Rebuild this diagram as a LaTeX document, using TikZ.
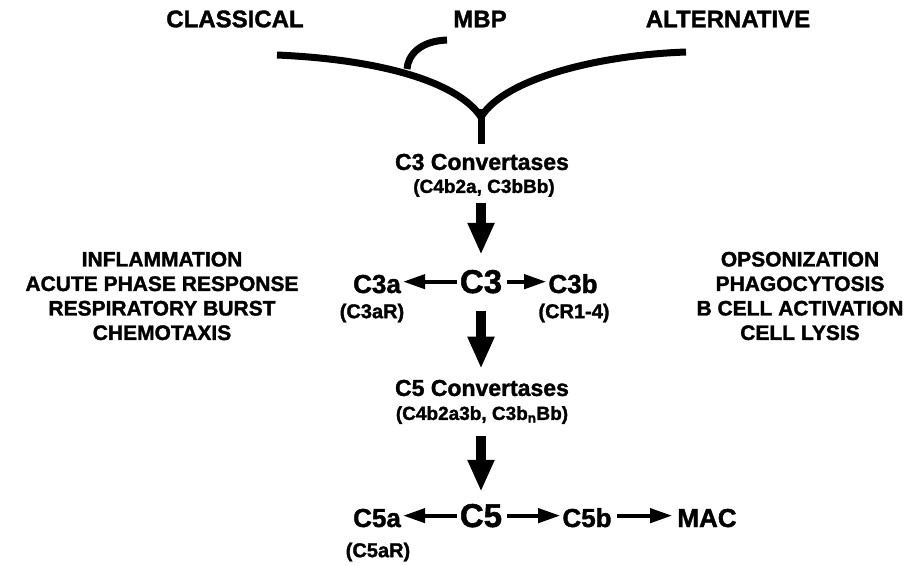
\documentclass[tikz,border=0pt]{standalone}
\usepackage{fontspec}
\setmainfont{Liberation Sans}[BoldFeatures={FakeBold=1.5}]
\usetikzlibrary{arrows.meta,positioning}
\tikzstyle{pathway}   =[font=\bfseries\fontsize{24}{28}\selectfont, inner sep=0pt]
\tikzstyle{effect}    =[font=\bfseries\fontsize{21}{24.5}\selectfont, align=center, inner sep=0pt]
\tikzstyle{convertase}=[font=\bfseries\fontsize{23}{26}\selectfont, inner sep=0pt]
\tikzstyle{complex}   =[font=\bfseries\fontsize{19}{22}\selectfont, inner sep=0pt]
\tikzstyle{major}     =[font=\bfseries\fontsize{33}{36}\selectfont, inner sep=0pt, anchor=base]
\tikzstyle{fragment}  =[font=\bfseries\fontsize{26}{30}\selectfont, inner sep=0pt, anchor=base]
\tikzstyle{receptor}  =[font=\bfseries\fontsize{20}{24}\selectfont, inner sep=0pt]
\tikzstyle{branch}    =[line width=7pt, line join=round]
\tikzstyle{bigArrow}  =[line width=10pt, -{Triangle[length=32pt,width=25pt]}]
\tikzstyle{smallArrow}=[line width=4pt, -{Triangle[length=22pt,width=14pt]}]

\begin{document}
\begin{tikzpicture}[x=1pt,y=-1pt]
  \useasboundingbox (0,0) rectangle (912,565);
  \node [pathway] (classical)   at (235,19) {CLASSICAL};
  \node [pathway] (mbp)         at (480,19) {MBP};
  \node [pathway] (alternative) at (728,19) {ALTERNATIVE};

  \coordinate (cStart) at (277,55);
  \coordinate (aEnd)   at (686,52);
  \coordinate (fork)   at (481,117);
  \coordinate (mEnd)   at (447,40);
  \coordinate (mJoin)  at (407,69);
  \draw [branch] (cStart) .. controls (390,60) and (460,85) .. (fork)
                          .. controls (505,78) and (600,55) .. (aEnd);
  \draw [branch] (mEnd) .. controls (420,41) and (408,55) .. (mJoin);

  \node [convertase] (conv3) at (482,162) {C3 Convertases};
  \node [complex]    (sub3)  at (484,188) {(C4b2a, C3bBb)};
  \draw [branch] ([yshift=8pt]fork) -- ([yshift=10pt]conv3.north -| fork);

  \node [major]    (c3)   at (481,293) {C3};
  \node [fragment] (c3a)  at (377,293) {C3a};
  \node [fragment] (c3b)  at (573,293) {C3b};
  \node [receptor] (c3aR) at (372,313) {(C3aR)};
  \node [receptor] (cr14) at (574,313) {(CR1-4)};

  \node [effect] (inflam) at (162,296) {INFLAMMATION\\ACUTE PHASE RESPONSE\\RESPIRATORY BURST\\CHEMOTAXIS};
  \node [effect] (opson)  at (800,296) {OPSONIZATION\\PHAGOCYTOSIS\\B CELL ACTIVATION\\CELL LYSIS};

  \node [convertase] (conv5) at (482,388) {C5 Convertases};
  \node [complex]    (sub5)  at (482,415) {(C4b2a3b, C3b\textsubscript{n}Bb)};

  \node [major]    (c5)   at (481,527) {C5};
  \node [fragment] (c5a)  at (377,527) {C5a};
  \node [fragment] (c5b)  at (587,527) {C5b};
  \node [fragment] (mac)  at (707,527) {MAC};
  \node [receptor] (c5aR) at (378,552) {(C5aR)};

  \draw [bigArrow, shorten <=6pt, shorten >=15pt] (sub3.south -| c3) -- (c3.north);
  \draw [bigArrow, shorten <=17pt, shorten >=11pt] (c3.south) -- (conv5.north -| c3);
  \draw [bigArrow, shorten <=12pt, shorten >=12pt] (sub5.south -| c5) -- (c5.north);

  \draw [smallArrow, shorten <=3pt, shorten >=2pt] (c3.west) -- (c3.west -| c3a.east);
  \draw [smallArrow, shorten <=5pt, shorten >=2pt] (c3.east) -- (c3.east -| c3b.west);
  \draw [smallArrow, shorten <=3pt, shorten >=2pt] (c5.west) -- (c5.west -| c5a.east);
  \draw [smallArrow, shorten <=5pt, shorten >=2pt] (c5.east) -- (c5.east -| c5b.west);
  \draw [smallArrow, shorten <=5pt, shorten >=5pt] (c5b.east |- c5.east) -- (c5.east -| mac.west);
\end{tikzpicture}
\end{document}
